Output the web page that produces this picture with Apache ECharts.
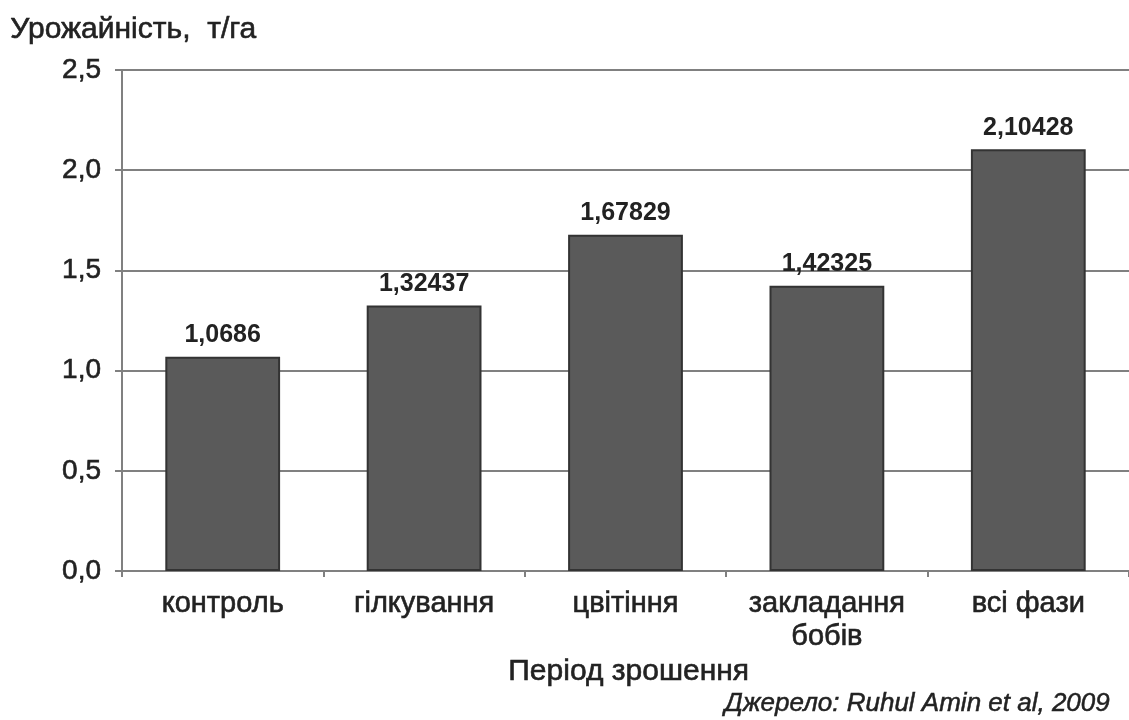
<!DOCTYPE html>
<html><head><meta charset="utf-8">
<script src="https://cdn.jsdelivr.net/npm/echarts@6/dist/echarts.min.js"></script>
<style>html,body{margin:0;padding:0;background:#fff}#c{width:1129px;height:720px}</style>
</head><body><div id="c"></div>
<script>
const categories = ['контроль', 'гілкування', 'цвітіння', 'закладання\nбобів', 'всі фази'];
const values = [1.0686, 1.32437, 1.67829, 1.42325, 2.10428];
const valueLabels = ['1,0686', '1,32437', '1,67829', '1,42325', '2,10428'];
const yTicks = [0, 0.5, 1.0, 1.5, 2.0, 2.5];
const yTickLabels = ['0,0', '0,5', '1,0', '1,5', '2,0', '2,5'];
const yTitle = 'Урожайність,  т/га';
const xTitle = 'Період зрошення';
const source = 'Джерело: Ruhul Amin et al, 2009';

const font = 'Liberation Sans, Arial, sans-serif';
const ink = '#222';
const stroke = {textBorderColor: ink, textBorderWidth: 0.6};
const chart = echarts.init(document.getElementById('c'), null, {renderer: 'canvas'});
chart.setOption({
  animation: false,
  backgroundColor: '#fff',
  textStyle: {fontFamily: font},
  grid: {left: 122, top: 70, width: 1010, height: 501, containLabel: false},
  graphic: [
    {type: 'text', left: 10, top: 14, style: Object.assign({text: yTitle, font: '30px ' + font, fill: ink}, {stroke: ink, lineWidth: 0.6})},
    {type: 'text', left: 508, top: 656, style: {text: xTitle, font: '30px ' + font, fill: ink, stroke: ink, lineWidth: 0.6}},
    {type: 'text', right: 19, top: 691, style: {text: source, font: 'italic 26px ' + font, fill: ink, stroke: ink, lineWidth: 0.5}}
  ],
  xAxis: {
    type: 'category',
    data: categories,
    axisLine: {lineStyle: {color: '#808080', width: 2}},
    axisTick: {show: true, interval: 0, length: 6, lineStyle: {color: '#808080', width: 2}},
    axisLabel: Object.assign({interval: 0, fontSize: 29, color: ink, margin: 16, lineHeight: 33, fontFamily: font}, stroke)
  },
  yAxis: {
    type: 'value', min: 0, max: 2.5, interval: 0.5,
    axisLine: {show: true, lineStyle: {color: '#808080', width: 2}},
    axisTick: {show: true, length: 7, lineStyle: {color: '#808080', width: 2}},
    splitLine: {lineStyle: {color: '#808080', width: 2}},
    axisLabel: Object.assign({fontSize: 28, color: ink, margin: 21, fontFamily: font,
      formatter: v => yTickLabels[yTicks.indexOf(Math.round(v * 10) / 10)] || ''}, stroke)
  },
  series: [{
    type: 'bar',
    data: values,
    barWidth: '57%',
    itemStyle: {color: '#5a5a5a', borderColor: '#333', borderWidth: 2},
    label: {show: true, position: 'top', distance: 9, fontSize: 25, fontWeight: 'bold', color: ink, fontFamily: font,
      formatter: p => valueLabels[p.dataIndex]}
  }]
});
</script></body></html>
